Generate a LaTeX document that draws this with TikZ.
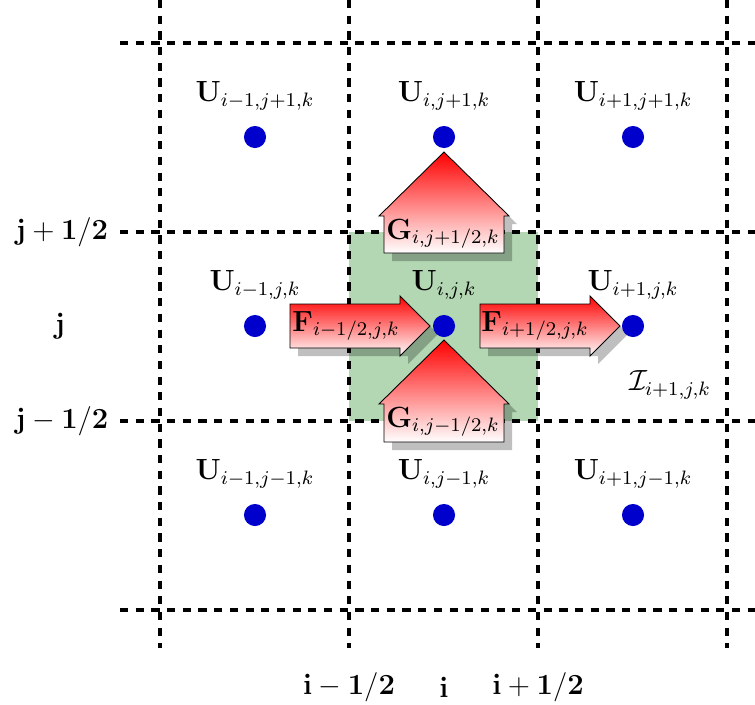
\documentclass[tikz,border=0pt]{standalone}
\usepackage{graphicx}
\definecolor{dotblue}{RGB}{0,0,204}
\definecolor{cellgreen}{RGB}{178,215,178}
\newcommand{\mylbl}[1]{\scalebox{1.1}{$#1$}}
\begin{document}
\begin{tikzpicture}[x=0.4525pt,y=-0.4525pt,
  gridline/.style={line width=1.5pt, dash pattern=on 3.7pt off 3.4pt},
  cell/.style={circle, fill=dotblue, inner sep=0pt, minimum size=10pt},
  flux/.style={draw=black, line width=0.4pt, top color=red, bottom color=white},
  fshadow/.style={fill=black, opacity=0.25},
  lab/.style={inner sep=1pt, font=\large}]
\useasboundingbox (0,0) rectangle (755,704);
% control volume
\fill[cellgreen] (349,232) rectangle (538,421);
% grid
\foreach \x in {160,349,538,727} {
  \coordinate (vt\x) at (\x,0); \coordinate (vb\x) at (\x,648);
  \draw[gridline] (vt\x) -- (vb\x);
}
\foreach \y in {43,232,421,610} {
  \coordinate (hl\y) at (120,\y); \coordinate (hr\y) at (755,\y);
  \draw[gridline] (hl\y) -- (hr\y);
}
% horizontal flux arrows: tail x0, tip x1, centre y
\foreach \xa/\xb in {290/430, 480/620} {
  \pgfmathsetmacro{\xh}{\xb-30}
  \fill[fshadow] (\xa+8,304+8) -- (\xh+8,304+8) -- (\xh+8,296+8) -- (\xb+8,326+8)
     -- (\xh+8,356+8) -- (\xh+8,348+8) -- (\xa+8,348+8) -- cycle;
  \path[flux] (\xa,304) -- (\xh,304) -- (\xh,296) -- (\xb,326)
     -- (\xh,356) -- (\xh,348) -- (\xa,348) -- cycle;
}
% vertical flux arrows: tip y, tail y
\foreach \ya/\yb in {152/253, 340/442} {
  \pgfmathsetmacro{\yh}{\ya+64}
  \fill[fshadow] (384+8,\yb+8) -- (384+8,\yh+8) -- (379+8,\yh+8) -- (444+8,\ya+8)
     -- (509+8,\yh+8) -- (504+8,\yh+8) -- (504+8,\yb+8) -- cycle;
  \path[flux] (384,\yb) -- (384,\yh) -- (379,\yh) -- (444,\ya)
     -- (509,\yh) -- (504,\yh) -- (504,\yb) -- cycle;
}
% cell centres
\node[cell] (c11) at (255,137) {};
\node[cell] (c21) at (444,137) {};
\node[cell] (c31) at (633,137) {};
\node[cell] (c12) at (255,326) {};
\node[cell] (c22) at (444,326) {};
\node[cell] (c32) at (633,326) {};
\node[cell] (c13) at (255,515) {};
\node[cell] (c23) at (444,515) {};
\node[cell] (c33) at (633,515) {};
% cell labels
\node[lab] (l11) at (255,96) {\mylbl{\mathbf{U}_{i-1,j+1,k}}};
\node[lab] (l21) at (444,96) {\mylbl{\mathbf{U}_{i,j+1,k}}};
\node[lab] (l31) at (633,96) {\mylbl{\mathbf{U}_{i+1,j+1,k}}};
\node[lab] (l12) at (255,285) {\mylbl{\mathbf{U}_{i-1,j,k}}};
\node[lab] (l22) at (444,285) {\mylbl{\mathbf{U}_{i,j,k}}};
\node[lab] (l32) at (633,285) {\mylbl{\mathbf{U}_{i+1,j,k}}};
\node[lab] (l13) at (255,474) {\mylbl{\mathbf{U}_{i-1,j-1,k}}};
\node[lab] (l23) at (444,474) {\mylbl{\mathbf{U}_{i,j-1,k}}};
\node[lab] (l33) at (633,474) {\mylbl{\mathbf{U}_{i+1,j-1,k}}};
% flux labels
\node[lab] (fl) at (346,326) {\mylbl{\mathbf{F}_{i-1/2,j,k}}};
\node[lab] (fr) at (535,326) {\mylbl{\mathbf{F}_{i+1/2,j,k}}};
\node[lab] (gt) at (443,234) {\mylbl{\mathbf{G}_{i,j+1/2,k}}};
\node[lab] (gb) at (443,422) {\mylbl{\mathbf{G}_{i,j-1/2,k}}};
\node[lab] (ii) at (670,385) {\mylbl{\mathcal{I}_{i+1,j,k}}};
% axis labels
\node[lab] (jp) at (62,232) {\mylbl{\mathbf{j+1/2}}};
\node[lab] (jj) at (60,326) {\mylbl{\mathbf{j}}};
\node[lab] (jm) at (62,421) {\mylbl{\mathbf{j-1/2}}};
\node[lab] (im) at (349,687) {\mylbl{\mathbf{i-1/2}}};
\node[lab] (ic) at (444,687) {\mylbl{\mathbf{i}}};
\node[lab] (ip) at (538,687) {\mylbl{\mathbf{i+1/2}}};
\end{tikzpicture}
\end{document}
